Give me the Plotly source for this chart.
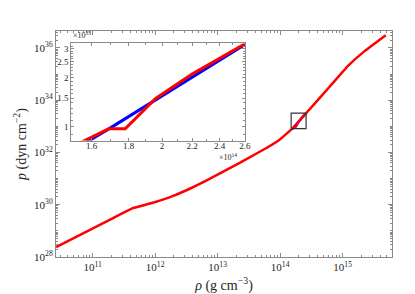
import plotly.graph_objects as go
import math

# ---- data ----
rho_red = [2.59e10, 1.9e11, 4.4e11, 9.16e11, 1.9e12, 3.95e12, 7.28e12, 1.51e13,
           3.14e13, 6.52e13, 1.0e14, 1.57e14, 1.69e14, 1.78e14, 1.96e14, 2.2e14, 2.4e14,
           2.6e14, 6.6e14, 1.23e15, 2.24e15, 4.9e15]
p_red = [2.4e28, 2.7e29, 7.4e29, 1.2e30, 2.14e30, 4.57e30, 9.5e30, 2.4e31,
         6.2e31, 1.66e32, 3.24e32, 8.3e32, 0.973e33, 0.973e33, 1.49e33, 2.1e33, 2.62e33,
         3.18e33, 3.9e34, 2.1e35, 7.6e35, 3.1e36]
rho_blue = [1.57e14, 1.69e14, 2.6e14]
p_blue = [0.80e33, 0.973e33, 3.18e33]

x_tick_exp = [11, 12, 13, 14, 15]
y_tick_exp = [28, 30, 32, 34, 36]
inset_x_ticks = [1.6, 1.8, 2.0, 2.2, 2.4, 2.6]
inset_x_labels = ["1.6", "1.8", "2", "2.2", "2.4", "2.6"]
inset_y_ticks = [1.0, 1.5, 2.0, 2.5, 3.0]
inset_y_labels = ["1", "1.5", "2", "2.5", "3"]
inset_rho_range = [1.5e14, 2.6e14]
inset_p_range = [0.825e33, 3.23e33]

FONT = "Liberation Serif"
AX = "#8a8a8a"
TXT = "#262626"

fig = go.Figure()
# main panel: smooth curve
fig.add_trace(go.Scatter(x=rho_blue, y=p_blue, mode="lines",
                         line=dict(color="#0000ff", width=2.5), xaxis="x", yaxis="y"))
fig.add_trace(go.Scatter(x=rho_red, y=p_red, mode="lines",
                         line=dict(color="#ff0000", width=2.5, shape="spline", smoothing=0.4),
                         xaxis="x", yaxis="y"))
# zoom box in main panel (corners are the inset's ranges)
bx = [inset_rho_range[0], inset_rho_range[1], inset_rho_range[1], inset_rho_range[0], inset_rho_range[0]]
by = [inset_p_range[0], inset_p_range[0], inset_p_range[1], inset_p_range[1], inset_p_range[0]]
fig.add_trace(go.Scatter(x=bx, y=by, mode="lines", line=dict(color="#333333", width=1.2),
                         xaxis="x", yaxis="y"))
# inset
fig.add_trace(go.Scatter(x=rho_blue, y=p_blue, mode="lines",
                         line=dict(color="#0000ff", width=3), xaxis="x2", yaxis="y2"))
fig.add_trace(go.Scatter(x=rho_red, y=p_red, mode="lines",
                         line=dict(color="#ff0000", width=3), xaxis="x2", yaxis="y2"))

minor_x = []
for e in range(10, 16):
    for d in range(2, 10):
        minor_x.append(float(d) * 10.0 ** e)
minor_y = [10.0 ** e for e in range(28, 37)]
for e in range(28, 37):
    for d in range(2, 10):
        minor_y.append(float(d) * 10.0 ** e)

inset_minor_x = [v * 1e14 for v in [1.5, 1.7, 1.9, 2.1, 2.3, 2.5]]
inset_minor_y = [v * 1e33 for v in [0.9, 1.1, 1.2, 1.3, 1.4, 1.6, 1.7, 1.8, 1.9,
                                     2.1, 2.2, 2.3, 2.4, 2.6, 2.7, 2.8, 2.9, 3.1, 3.2]]

common = dict(showgrid=False, zeroline=False, showline=True, linecolor=AX, linewidth=1,
              mirror="ticks", ticks="inside", tickcolor=AX)

fig.update_layout(
    width=415, height=294,
    margin=dict(l=46, r=31, t=23, b=36),
    paper_bgcolor="white", plot_bgcolor="white",
    showlegend=False,
    font=dict(family=FONT, color=TXT, size=11),
    xaxis=dict(type="log", range=[10.413, 15.79], domain=[0, 1], ticklen=4,
               tickvals=[10.0 ** e for e in x_tick_exp],
               ticktext=["10<sup>%d</sup>" % e for e in x_tick_exp],
               tickfont=dict(size=11, color=TXT, family=FONT),
               minor=dict(tickvals=minor_x, ticks="inside", ticklen=2, tickcolor=AX),
               title=dict(text="<i>ρ</i> (g cm<sup>−3</sup>)", font=dict(size=14, color=TXT),
                          standoff=7), **common),
    yaxis=dict(type="log", range=[28, 36.65], domain=[0, 1], ticklen=4,
               tickvals=[10.0 ** e for e in y_tick_exp],
               ticktext=["10<sup>%d</sup>" % e for e in y_tick_exp],
               tickfont=dict(size=11, color=TXT, family=FONT),
               minor=dict(tickvals=minor_y, ticks="inside", ticklen=2, tickcolor=AX),
               title=dict(text="<i>p</i> (dyn cm<sup>−2</sup>)", font=dict(size=14, color=TXT),
                          standoff=4), **common),
    xaxis2=dict(type="log", range=[math.log10(v) for v in inset_rho_range],
                domain=[0.0452, 0.562], anchor="y2", ticklen=3, ticklabelstandoff=-3,
                tickvals=[v * 1e14 for v in inset_x_ticks], ticktext=inset_x_labels,
                tickfont=dict(size=9, color=TXT, family=FONT),
                minor=dict(tickvals=inset_minor_x, ticks="inside", ticklen=2, tickcolor=AX),
                **common),
    yaxis2=dict(type="log", range=[math.log10(v) for v in inset_p_range],
                domain=[0.515, 0.945], anchor="x2", ticklen=3,
                tickvals=[v * 1e33 for v in inset_y_ticks], ticktext=inset_y_labels,
                tickfont=dict(size=9, color=TXT, family=FONT),
                minor=dict(tickvals=inset_minor_y, ticks="inside", ticklen=2, tickcolor=AX),
                **common),
)

# exponent labels of inset
fig.add_annotation(text="×10<sup>33</sup>", xref="paper", yref="paper",
                   x=0.0452, y=0.95, xanchor="left", yanchor="bottom",
                   showarrow=False, font=dict(size=8, family=FONT, color=TXT))
fig.add_annotation(text="×10<sup>14</sup>", xref="paper", yref="paper",
                   x=0.545, y=0.442, xanchor="right", yanchor="middle",
                   showarrow=False, font=dict(size=8, family=FONT, color=TXT))

fig.write_html("out.html")
